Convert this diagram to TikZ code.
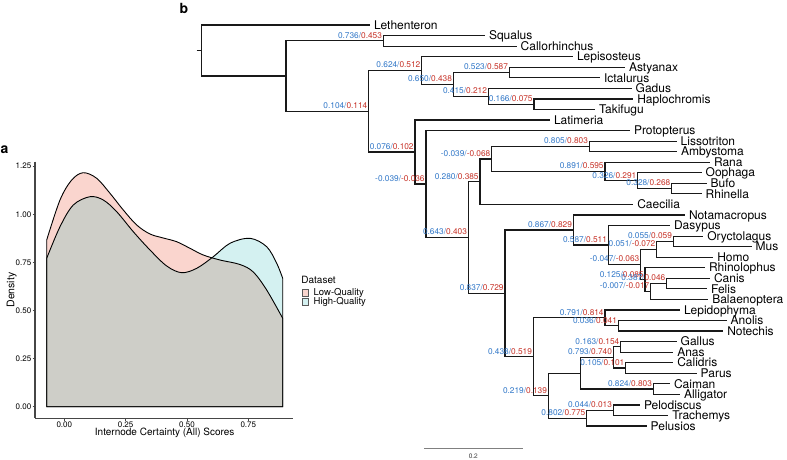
\documentclass[tikz,border=0pt]{standalone}
\usepackage{fontspec}
\setmainfont{TeX Gyre Heros}
\definecolor{lblue}{RGB}{50,120,200}
\definecolor{lred}{RGB}{198,50,40}
\definecolor{lqfill}{RGB}{250,213,206}
\definecolor{hqfill}{RGB}{212,241,241}
\definecolor{ovfill}{RGB}{206,206,200}
\definecolor{axisgrey}{RGB}{70,70,70}
\newcommand{\icv}[2]{\textcolor{lblue}{#1/}\textcolor{lred}{#2}}
\newcommand{\lqpath}{(46.7,406.7) -- plot[smooth,tension=0.55] coordinates {(46.7,240) (60,200) (71.7,180) (83.3,172.7) (96.7,178.3) (110,193.3) (123.3,210) (136.7,225) (150,234) (163.3,238) (176.7,241.7) (190,248.3) (203.3,255) (220,260) (240,264.5) (253.3,272) (266.7,290) (282.7,318.3)} -- (282.7,406.7) -- cycle}
\newcommand{\hqpath}{(46.7,406.7) -- plot[smooth,tension=0.55] coordinates {(46.7,258.3) (60,226.7) (73.3,205) (90,196.7) (103.3,200) (116.7,211.7) (133.3,231.7) (150,250) (166.7,266) (181.7,272.7) (196.7,268.3) (213.3,256.7) (230,243.3) (250,238.3) (266.7,246.7) (276.7,263.3) (282.7,278.3)} -- (282.7,406.7) -- cycle}
\begin{document}
\begin{tikzpicture}[x=1pt,y=-1pt,
  br/.style={line width=1.2pt, draw=black!90},
  tip/.style={anchor=west, inner xsep=3.8pt, inner ysep=0pt, text height=8.5pt, text depth=0pt, font=\fontsize{12}{13}\selectfont},
  ic/.style={anchor=base east, inner sep=0pt, xshift=-1.2pt, yshift=2.6pt, font=\fontsize{8.3}{9}\selectfont},
  curve/.style={draw=black, line width=0.9pt},
  ticklab/.style={font=\fontsize{8}{9}\selectfont, inner sep=0pt},
  panlab/.style={anchor=base west, inner sep=0pt, font=\bfseries\fontsize{14}{14}\selectfont}]
\useasboundingbox (0,0) rectangle (787,459);

% ---------------- panel a ----------------
\node[panlab] (pa) at (0.5,153.5) {a};
\fill[lqfill] \lqpath;
\fill[hqfill] \hqpath;
\begin{scope}
  \clip \lqpath;
  \fill[ovfill] \hqpath;
\end{scope}
\draw[curve] \lqpath;
\draw[curve] \hqpath;
\draw[axisgrey, line width=1.2pt] (35,161.7) -- (35,418.3);
\draw[axisgrey, line width=1.2pt] (35,418.3) -- (293.3,418.3);
\foreach \yy/\lab in {406.7/0.00, 358.6/0.25, 310.5/0.50, 262.4/0.75, 214.3/1.00, 166.2/1.25}{
  \draw[axisgrey, line width=0.6pt] (32.5,\yy) -- (35,\yy);
  \node[ticklab, anchor=east] at (31.5,\yy) {\lab};
}
\foreach \xx/\lab in {64.3/0.00, 125.6/0.25, 187/0.50, 248.3/0.75}{
  \draw[axisgrey, line width=0.6pt] (\xx,418.3) -- (\xx,421);
  \node[ticklab, anchor=north] at (\xx,422) {\lab};
}
\node[rotate=90, font=\fontsize{10.5}{11}\selectfont, inner sep=0pt] (ylab) at (11.7,290) {Density};
\node[font=\fontsize{10}{11}\selectfont, inner sep=0pt] (xlab) at (164.7,433.3) {Internode Certainty (All) Scores};
\node[anchor=west, inner sep=0pt, font=\fontsize{10}{11}\selectfont] (legt) at (301.2,280) {Dataset};
\filldraw[fill=lqfill, draw=black!65, line width=0.5pt] (302.7,289.3) rectangle (308.7,296);
\filldraw[fill=hqfill, draw=black!65, line width=0.5pt] (302.7,298.7) rectangle (308.7,305.3);
\node[anchor=west, inner sep=0pt, font=\fontsize{9.5}{10}\selectfont] (leg1) at (313.5,292.8) {Low-Quality};
\node[anchor=west, inner sep=0pt, font=\fontsize{9.5}{10}\selectfont] (leg2) at (313.5,301.6) {High-Quality};

% ---------------- panel b ----------------
\node[panlab] (pb) at (179.5,13) {b};

% tips
\node[tip] (leth) at (370,25.0) {Lethenteron};
\node[tip] (squa) at (485,35.6) {Squalus};
\node[tip] (call) at (516.7,46.1) {Callorhinchus};
\node[tip] (lepi) at (573,56.7) {Lepisosteus};
\node[tip] (asty) at (625,67.2) {Astyanax};
\node[tip] (icta) at (600,77.8) {Ictalurus};
\node[tip] (gadu) at (631.7,88.3) {Gadus};
\node[tip] (hapl) at (633.3,98.9) {Haplochromis};
\node[tip] (taki) at (595,109.4) {Takifugu};
\node[tip] (lati) at (550,120.0) {Latimeria};
\node[tip] (prot) at (630,130.5) {Protopterus};
\node[tip] (liss) at (676.7,141.1) {Lissotriton};
\node[tip] (amby) at (677,151.6) {Ambystoma};
\node[tip] (rana) at (710,162.2) {Rana};
\node[tip] (ooph) at (701.7,172.7) {Oophaga};
\node[tip] (bufo) at (706.7,183.3) {Bufo};
\node[tip] (rhin) at (701.7,193.8) {Rhinella};
\node[tip] (caec) at (633.3,204.4) {Caecilia};
\node[tip] (nota) at (685,214.9) {Notamacropus};
\node[tip] (dasy) at (670,225.5) {Dasypus};
\node[tip] (oryc) at (703.3,236.1) {Oryctolagus};
\node[tip] (mus) at (751.7,246.6) {Mus};
\node[tip] (homo) at (713.3,257.2) {Homo};
\node[tip] (rhil) at (705,267.7) {Rhinolophus};
\node[tip] (cani) at (710,278.3) {Canis};
\node[tip] (feli) at (707,288.8) {Felis};
\node[tip] (bala) at (708.3,299.4) {Balaenoptera};
\node[tip] (lepd) at (680,309.9) {Lepidophyma};
\node[tip] (anol) at (726.7,320.5) {Anolis};
\node[tip] (note) at (723.3,331.0) {Notechis};
\node[tip] (gall) at (676.7,341.6) {Gallus};
\node[tip] (anas) at (673.3,352.1) {Anas};
\node[tip] (cali) at (673.3,362.7) {Calidris};
\node[tip] (paru) at (696.7,373.2) {Parus};
\node[tip] (caim) at (670,383.8) {Caiman};
\node[tip] (alli) at (680,394.3) {Alligator};
\node[tip] (pelo) at (640,404.9) {Pelodiscus};
\node[tip] (trac) at (668.3,415.4) {Trachemys};
\node[tip] (pelu) at (646.7,426.0) {Pelusios};

% internal nodes
\coordinate (rs) at (196.7,50.5);
\coordinate (n0) at (201.7,50.5);
\coordinate (nA) at (286,76.05);
\coordinate (nCH) at (383.3,40.85);
\coordinate (nB) at (368.7,111.25);
\coordinate (nC) at (421.7,70.5);
\coordinate (nD) at (453.3,84.35);
\coordinate (nE) at (509.3,72.5);
\coordinate (nF) at (488.3,96.2);
\coordinate (nG) at (534,104.15);
\coordinate (nH) at (415,152);
\coordinate (nI) at (426,184);
\coordinate (nJ) at (468.3,237.5);
\coordinate (nK) at (480,181.65);
\coordinate (nL) at (491.7,158.9);
\coordinate (nM) at (589.3,146.35);
\coordinate (nN) at (605,171.4);
\coordinate (nO) at (637.7,180.6);
\coordinate (nP) at (671.7,188.55);
\coordinate (nQ) at (505,293.3);
\coordinate (nR) at (573.3,229.95);
\coordinate (nV) at (608.3,245);
\coordinate (nW) at (640.7,264.45);
\coordinate (nX) at (656.7,249.3);
\coordinate (nY) at (673.3,241.35);
\coordinate (nZ) at (645,279.6);
\coordinate (nZ2) at (650.7,291.5);
\coordinate (nCa) at (666.7,283.55);
\coordinate (nS) at (533.3,356.7);
\coordinate (nT) at (605,317.8);
\coordinate (nT2) at (618.3,325.75);
\coordinate (nU) at (548.3,395.65);
\coordinate (nAA) at (580.3,373.2);
\coordinate (nBB) at (613.3,357.4);
\coordinate (nGA) at (620.7,346.85);
\coordinate (nNA) at (625.7,367.95);
\coordinate (nCC) at (653.3,389.05);
\coordinate (nAB) at (586.7,418.1);
\coordinate (nDD) at (613.3,410.15);

% branches
\draw[br] (rs) -- (n0);
\draw[br] (n0) |- (leth.west);
\draw[br] (n0) |- (nA);
\draw[br] (nA) |- (nCH);
\draw[br] (nA) |- (nB);
\draw[br] (nCH) |- (squa.west);
\draw[br] (nCH) |- (call.west);
\draw[br] (nB) |- (nC);
\draw[br] (nB) |- (nH);
\draw[br] (nC) |- (lepi.west);
\draw[br] (nC) |- (nD);
\draw[br] (nD) |- (nE);
\draw[br] (nD) |- (nF);
\draw[br] (nE) |- (asty.west);
\draw[br] (nE) |- (icta.west);
\draw[br] (nF) |- (gadu.west);
\draw[br] (nF) |- (nG);
\draw[br] (nG) |- (hapl.west);
\draw[br] (nG) |- (taki.west);
\draw[br] (nH) |- (lati.west);
\draw[br] (nH) |- (nI);
\draw[br] (nI) |- (prot.west);
\draw[br] (nI) |- (nJ);
\draw[br] (nJ) |- (nK);
\draw[br] (nJ) |- (nQ);
\draw[br] (nK) |- (nL);
\draw[br] (nK) |- (caec.west);
\draw[br] (nL) |- (nM);
\draw[br] (nL) |- (nN);
\draw[br] (nM) |- (liss.west);
\draw[br] (nM) |- (amby.west);
\draw[br] (nN) |- (rana.west);
\draw[br] (nN) |- (nO);
\draw[br] (nO) |- (ooph.west);
\draw[br] (nO) |- (nP);
\draw[br] (nP) |- (bufo.west);
\draw[br] (nP) |- (rhin.west);
\draw[br] (nQ) |- (nR);
\draw[br] (nQ) |- (nS);
\draw[br] (nR) |- (nota.west);
\draw[br] (nR) |- (nV);
\draw[br] (nV) |- (dasy.west);
\draw[br] (nV) |- (nW);
\draw[br] (nW) |- (nX);
\draw[br] (nW) |- (nZ);
\draw[br] (nX) |- (nY);
\draw[br] (nX) |- (homo.west);
\draw[br] (nY) |- (oryc.west);
\draw[br] (nY) |- (mus.west);
\draw[br] (nZ) |- (rhil.west);
\draw[br] (nZ) |- (nZ2);
\draw[br] (nZ2) |- (nCa);
\draw[br] (nZ2) |- (bala.west);
\draw[br] (nCa) |- (cani.west);
\draw[br] (nCa) |- (feli.west);
\draw[br] (nS) |- (nT);
\draw[br] (nS) |- (nU);
\draw[br] (nT) |- (lepd.west);
\draw[br] (nT) |- (nT2);
\draw[br] (nT2) |- (anol.west);
\draw[br] (nT2) |- (note.west);
\draw[br] (nU) |- (nAA);
\draw[br] (nU) |- (nAB);
\draw[br] (nAA) |- (nBB);
\draw[br] (nAA) |- (nCC);
\draw[br] (nBB) |- (nGA);
\draw[br] (nBB) |- (nNA);
\draw[br] (nGA) |- (gall.west);
\draw[br] (nGA) |- (anas.west);
\draw[br] (nNA) |- (cali.west);
\draw[br] (nNA) |- (paru.west);
\draw[br] (nCC) |- (caim.west);
\draw[br] (nCC) |- (alli.west);
\draw[br] (nAB) |- (nDD);
\draw[br] (nAB) |- (pelu.west);
\draw[br] (nDD) |- (pelo.west);
\draw[br] (nDD) |- (trac.west);

% internode certainty labels
\node[ic] (icCH) at (nCH) {\icv{0.736}{0.453}};
\node[ic] (icB) at (nB) {\icv{0.104}{0.114}};
\node[ic] (icC) at (nC) {\icv{0.624}{0.512}};
\node[ic] (icD) at (nD) {\icv{0.650}{0.438}};
\node[ic] (icE) at (nE) {\icv{0.523}{0.587}};
\node[ic] (icF) at (nF) {\icv{0.415}{0.212}};
\node[ic] (icG) at (nG) {\icv{0.166}{0.075}};
\node[ic] (icH) at (nH) {\icv{0.076}{0.102}};
\node[ic] (icI) at (nI) {\icv{-0.039}{-0.036}};
\node[ic] (icJ) at (nJ) {\icv{0.643}{0.403}};
\node[ic] (icK) at (nK) {\icv{0.280}{0.385}};
\node[ic] (icL) at (nL) {\icv{-0.039}{-0.068}};
\node[ic] (icM) at (nM) {\icv{0.805}{0.803}};
\node[ic] (icN) at (nN) {\icv{0.891}{0.595}};
\node[ic] (icO) at (nO) {\icv{0.326}{0.291}};
\node[ic] (icP) at (nP) {\icv{0.328}{0.268}};
\node[ic] (icQ) at (nQ) {\icv{0.837}{0.729}};
\node[ic] (icR) at (nR) {\icv{0.867}{0.829}};
\node[ic] (icV) at (nV) {\icv{0.587}{0.511}};
\node[ic] (icW) at (nW) {\icv{-0.047}{-0.063}};
\node[ic] (icX) at (nX) {\icv{0.051}{-0.072}};
\node[ic] (icY) at (nY) {\icv{0.055}{0.059}};
\node[ic] (icZ) at (nZ) {\icv{0.125}{0.085}};
\node[ic] (icZ2) at (nZ2) {\icv{-0.007}{-0.017}};
\node[ic] (icCa) at (nCa) {\icv{0.387}{0.046}};
\node[ic] (icS) at (nS) {\icv{0.438}{0.519}};
\node[ic] (icT) at (nT) {\icv{0.791}{0.814}};
\node[ic] (icT2) at (nT2) {\icv{0.036}{0.041}};
\node[ic] (icU) at (nU) {\icv{0.219}{0.139}};
\node[ic] (icBB) at (nBB) {\icv{0.793}{0.740}};
\node[ic] (icGA) at (nGA) {\icv{0.163}{0.154}};
\node[ic] (icNA) at (nNA) {\icv{0.105}{0.101}};
\node[ic] (icCC) at (nCC) {\icv{0.824}{0.803}};
\node[ic] (icAB) at (nAB) {\icv{0.802}{0.775}};
\node[ic] (icDD) at (nDD) {\icv{0.044}{0.013}};

% scale bar
\coordinate (sb1) at (424,448.3);
\coordinate (sb2) at (522.7,448.3);
\draw[gray, line width=0.8pt] (sb1) -- (sb2);
\node[anchor=base, inner sep=0pt, font=\fontsize{6.5}{7}\selectfont, text=black!75] (sbl) at (473.3,458.6) {0.2};
\end{tikzpicture}
\end{document}
